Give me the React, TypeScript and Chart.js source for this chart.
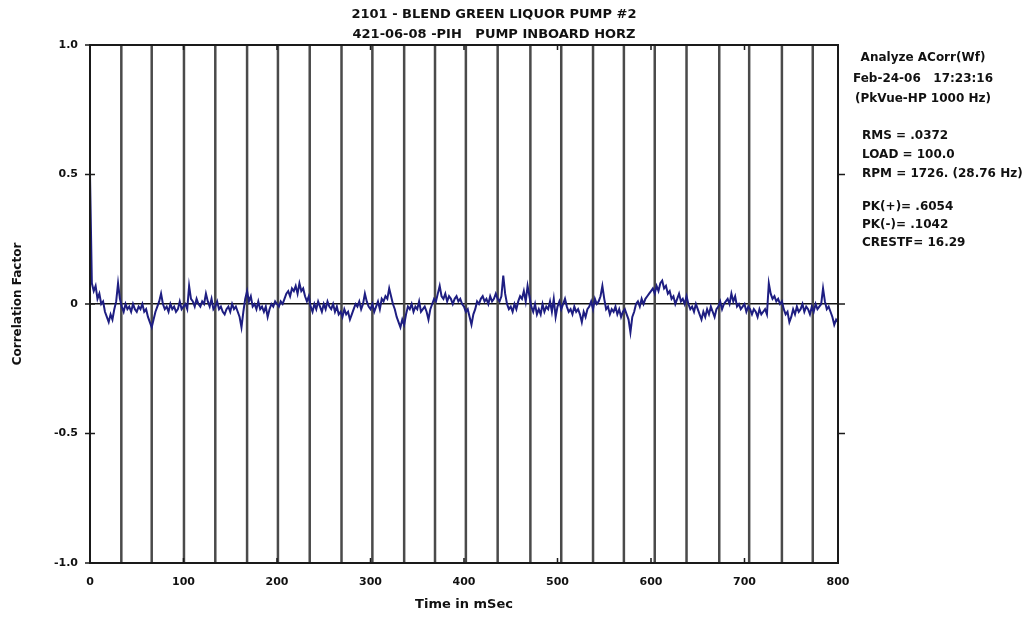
import React, { useEffect, useRef } from 'react';
import { Chart, registerables } from 'chart.js';

Chart.register(...registerables);

// ---- data -------------------------------------------------------------
const lagStepMs = 2; // spacing of the correlation samples (ms)

const correlation: number[] = [
  // 0 - 38 ms
  0.5, 0.08, 0.05, 0.07, 0.02, 0.04, 0.0, 0.01, -0.03, -0.05, -0.07, -0.04, -0.06, -0.02, 0.01, 0.08, 0.02, -0.01, -0.03, 0.0,
  // 40 - 78
  -0.02, -0.01, -0.03, 0.0, -0.02, -0.03, -0.01, -0.02, 0.0, -0.03, -0.02, -0.05, -0.07, -0.09, -0.06, -0.03, -0.01, 0.01, 0.04, 0.0,
  // 80 - 118
  -0.02, -0.01, -0.03, 0.0, -0.02, -0.01, -0.03, -0.02, 0.01, -0.02, -0.01, 0.0, -0.02, 0.07, 0.02, 0.01, -0.01, 0.02, 0.0, -0.01,
  // 120 - 158
  0.01, 0.0, 0.04, 0.01, -0.01, 0.02, -0.02, -0.01, 0.01, -0.02, -0.01, -0.03, -0.04, -0.02, -0.01, -0.03, 0.0, -0.02, -0.01, -0.03,
  // 160 - 198
  -0.05, -0.09, -0.03, 0.02, 0.05, 0.01, 0.03, -0.01, 0.0, -0.02, 0.01, -0.02, -0.01, -0.03, -0.01, -0.05, -0.02, 0.0, -0.01, 0.01,
  // 200 - 238
  0.0, -0.01, 0.01, 0.0, 0.02, 0.04, 0.05, 0.03, 0.06, 0.05, 0.07, 0.04, 0.08, 0.05, 0.06, 0.03, 0.01, 0.03, -0.01, -0.03,
  // 240 - 278
  0.0, -0.02, 0.01, -0.01, -0.03, 0.0, -0.02, 0.01, -0.01, -0.02, 0.0, -0.03, -0.01, -0.04, -0.03, -0.05, -0.02, -0.04, -0.03, -0.06,
  // 280 - 318
  -0.04, -0.02, 0.0, -0.01, 0.01, -0.02, 0.0, 0.04, 0.01, -0.01, -0.02, 0.0, -0.03, -0.01, 0.01, -0.02, 0.02, 0.01, 0.03, 0.02,
  // 320 - 358
  0.06, 0.03, 0.0, -0.02, -0.05, -0.07, -0.09, -0.06, -0.08, -0.04, -0.01, -0.02, 0.0, -0.03, -0.01, -0.02, 0.01, -0.03, -0.02, -0.01,
  // 360 - 398
  -0.03, -0.06, -0.02, 0.0, 0.02, 0.01, 0.04, 0.07, 0.03, 0.02, 0.04, 0.01, 0.03, 0.02, 0.0, 0.02, 0.03, 0.01, 0.02, 0.0,
  // 400 - 438
  -0.01, -0.03, -0.02, -0.05, -0.08, -0.04, -0.02, 0.01, 0.0, 0.02, 0.03, 0.01, 0.02, 0.0, 0.03, 0.01, 0.02, 0.04, 0.02, 0.01,
  // 440 - 478
  0.03, 0.11, 0.04, 0.0, -0.02, -0.01, -0.03, 0.0, -0.02, 0.01, 0.03, 0.02, 0.05, 0.01, 0.07, 0.03, -0.01, -0.03, 0.0, -0.04,
  // 480 - 518
  -0.02, -0.04, 0.0, -0.03, -0.01, -0.02, 0.01, -0.03, 0.02, -0.05, -0.01, 0.01, -0.02, 0.0, 0.02, -0.01, -0.03, -0.02, -0.04, -0.01,
  // 520 - 558
  -0.03, -0.02, -0.04, -0.07, -0.03, -0.05, -0.02, -0.01, 0.01, -0.02, 0.02, 0.0, 0.01, 0.03, 0.07, 0.02, -0.02, -0.01, -0.04, -0.02,
  // 560 - 598
  -0.03, -0.01, -0.04, -0.02, -0.05, -0.03, -0.02, -0.04, -0.06, -0.11, -0.05, -0.03, 0.0, 0.01, -0.01, 0.02, 0.0, 0.02, 0.03, 0.04,
  // 600 - 638
  0.05, 0.06, 0.04, 0.07, 0.05, 0.08, 0.09, 0.06, 0.07, 0.04, 0.05, 0.02, 0.03, 0.0, 0.02, 0.04, 0.01, 0.02, 0.0, 0.03,
  // 640 - 678
  0.0, -0.02, -0.01, -0.03, 0.0, -0.02, -0.04, -0.06, -0.03, -0.05, -0.02, -0.04, -0.01, -0.03, -0.05, -0.02, -0.01, 0.01, -0.02, 0.0,
  // 680 - 718
  0.01, 0.02, 0.0, 0.04, 0.01, 0.03, -0.01, 0.0, -0.02, -0.01, 0.0, -0.03, -0.01, -0.02, -0.04, -0.02, -0.03, -0.05, -0.02, -0.04,
  // 720 - 758
  -0.03, -0.02, -0.04, 0.08, 0.04, 0.02, 0.03, 0.01, 0.02, 0.0, 0.01, -0.02, -0.04, -0.03, -0.07, -0.05, -0.02, -0.04, -0.01, -0.03,
  // 760 - 798
  -0.02, 0.0, -0.03, -0.01, -0.02, -0.04, -0.01, -0.03, 0.0, -0.02, -0.01, 0.0, 0.06, 0.01, -0.02, -0.01, -0.03, -0.05, -0.08, -0.06,
  // 800
  -0.07,
];

// running-speed marker lines (ms)
const markerTimesMs = [
  33.5, 66, 100.5, 134, 168, 201, 235, 269, 302, 336, 369, 402,
  436, 471, 504, 538, 571, 604, 638, 673, 705, 740, 773,
];

const xTickValues = [0, 100, 200, 300, 400, 500, 600, 700, 800];
const yTickValues = [-1, -0.5, 0, 0.5, 1];
const rightTickValues = [-0.5, 0, 0.5];

const titleLines = [
  '2101 - BLEND GREEN LIQUOR PUMP #2',
  '421-06-08 -PIH   PUMP INBOARD HORZ',
];
const infoHeader = ['Analyze ACorr(Wf)', 'Feb-24-06   17:23:16', '(PkVue-HP 1000 Hz)'];
const infoLevels = ['RMS = .0372', 'LOAD = 100.0', 'RPM = 1726. (28.76 Hz)'];
const infoPeaks = ['PK(+)= .6054', 'PK(-)= .1042', 'CRESTF= 16.29'];

const xTitle = 'Time in mSec';
const yTitle = 'Correlation Factor';

// ---- styling ----------------------------------------------------------
const FONT = "'DejaVu Sans', 'Liberation Sans', Arial, sans-serif";
const TRACE_COLOR = '#1e1e82';
const MARKER_COLOR = '#4a4a4a';
const FRAME_COLOR = '#1a1a1a';

const framePlugin = {
  id: 'frameAndText',
  afterDatasetsDraw(chart: any) {
    const { ctx, chartArea: a, scales } = chart;
    const xs = scales.x;
    const ys = scales.y;
    ctx.save();
    ctx.strokeStyle = FRAME_COLOR;
    ctx.lineWidth = 2;
    ctx.strokeRect(a.left, a.top, a.right - a.left, a.bottom - a.top);

    ctx.lineWidth = 1.5;
    ctx.beginPath();
    for (const v of yTickValues) {
      const py = ys.getPixelForValue(v);
      ctx.moveTo(a.left - 5, py);
      ctx.lineTo(a.left + 5, py);
    }
    for (const v of rightTickValues) {
      const py = ys.getPixelForValue(v);
      ctx.moveTo(a.right, py);
      ctx.lineTo(a.right + 7, py);
    }
    for (const v of xTickValues) {
      if (v <= xs.min || v >= xs.max) continue;
      const px = xs.getPixelForValue(v);
      ctx.moveTo(px, a.bottom);
      ctx.lineTo(px, a.bottom - 5);
      ctx.moveTo(px, a.top);
      ctx.lineTo(px, a.top + 5);
    }
    ctx.stroke();
    ctx.restore();
  },
  afterDraw(chart: any) {
    const { ctx, chartArea: a } = chart;
    ctx.save();
    ctx.fillStyle = '#111';
    ctx.textBaseline = 'middle';

    // title
    ctx.font = `bold 13px ${FONT}`;
    ctx.textAlign = 'center';
    const cx = (a.left + a.right) / 2 + 30;
    titleLines.forEach((t, i) => ctx.fillText(t, cx, a.top - 30 + i * 20));

    // info block
    ctx.font = `bold 12px ${FONT}`;
    const hx = a.right + 85;
    infoHeader.forEach((t, i) => ctx.fillText(t, hx, a.top + 13 + i * 20.5));
    ctx.textAlign = 'left';
    const lx = a.right + 24;
    infoLevels.forEach((t, i) => ctx.fillText(t, lx, a.top + 91 + i * 19));
    infoPeaks.forEach((t, i) => ctx.fillText(t, lx, a.top + 162 + i * 18));
    ctx.restore();
  },
};

export default function App() {
  const canvasRef = useRef<HTMLCanvasElement | null>(null);

  useEffect(() => {
    if (!canvasRef.current) return;
    const tracePoints = correlation.map((v, i) => ({ x: i * lagStepMs, y: v }));
    const markerPoints: { x: number; y: number | null }[] = [];
    markerTimesMs.forEach((t) => {
      markerPoints.push({ x: t, y: -1 }, { x: t, y: 1 }, { x: t, y: null });
    });

    const chart = new Chart(canvasRef.current, {
      type: 'line',
      data: {
        datasets: [
          {
            label: 'Correlation',
            data: tracePoints,
            borderColor: TRACE_COLOR,
            borderWidth: 2,
            pointRadius: 0,
            tension: 0,
            order: 0,
          },
          {
            label: 'Markers',
            data: markerPoints as any,
            borderColor: MARKER_COLOR,
            borderWidth: 2.5,
            pointRadius: 0,
            spanGaps: false,
            order: 1,
          },
        ],
      },
      options: {
        animation: false,
        responsive: true,
        maintainAspectRatio: false,
        parsing: true,
        layout: { padding: { top: 45, right: 194, bottom: 0, left: 0 } },
        plugins: {
          legend: { display: false },
          tooltip: { enabled: false },
          title: { display: false },
        },
        scales: {
          x: {
            type: 'linear',
            min: 0,
            max: 800,
            afterFit: (s: any) => { s.height = 54; },
            afterBuildTicks: (s: any) => { s.ticks = xTickValues.map((v) => ({ value: v })); },
            ticks: {
              color: '#111',
              font: { family: FONT, size: 11, weight: 'bold' },
              padding: 13,
              maxRotation: 0,
              callback: (v: any) => String(v),
            },
            grid: { display: true, drawOnChartArea: false, drawTicks: false },
            border: { display: false },
            title: {
              display: true,
              text: xTitle,
              color: '#111',
              font: { family: FONT, size: 13, weight: 'bold' },
              padding: { top: 0, bottom: 5 },
            },
          },
          y: {
            type: 'linear',
            min: -1,
            max: 1,
            afterFit: (s: any) => { s.width = 90; },
            afterBuildTicks: (s: any) => { s.ticks = yTickValues.map((v) => ({ value: v })); },
            ticks: {
              color: '#111',
              font: { family: FONT, size: 11, weight: 'bold' },
              padding: 12,
              callback: (v: any) => (Number(v) === 0 ? '0' : Number(v).toFixed(1)),
            },
            grid: {
              drawTicks: false,
              lineWidth: 1.5,
              color: (c: any) => (c.tick && c.tick.value === 0 ? '#111' : 'rgba(0,0,0,0)'),
            },
            border: { display: false },
            title: {
              display: true,
              text: yTitle,
              color: '#111',
              font: { family: FONT, size: 12, weight: 'bold' },
              padding: { top: 11, bottom: 0 },
            },
          },
        },
      },
      plugins: [framePlugin],
    });

    return () => chart.destroy();
  }, []);

  return (
    <div style={{ position: 'fixed', left: 0, top: 0, width: 1032, height: 617, background: '#fff' }}>
      <canvas ref={canvasRef} />
    </div>
  );
}
